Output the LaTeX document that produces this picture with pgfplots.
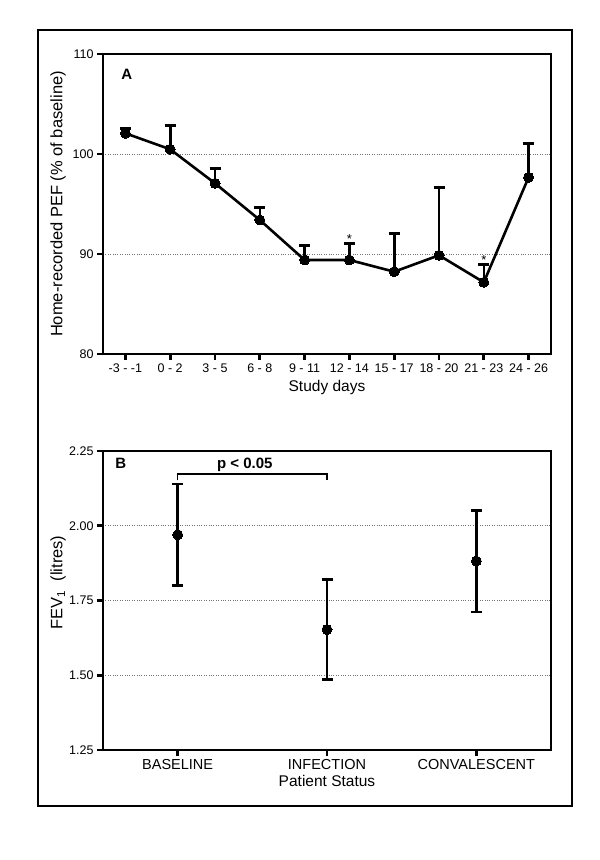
\documentclass[border=0pt]{standalone}
\usepackage{fontspec}
\setmainfont{Liberation Sans}
\usepackage{pgfplots}
\usepackage{pgfplotstable}
\pgfplotsset{compat=1.18}

% panel A: home-recorded PEF, mean + SEM
\pgfplotstableread{
x  y      e
0  102.07 0.50
1  100.47 2.36
2  97.07  1.50
3  93.40  1.23
4  89.40  1.45
5  89.40  1.67
6  88.23  3.84
7  89.87  6.76
8  87.17  1.80
9  97.67  3.40
}\pefdata

% panel B: FEV1, mean +/- SEM
\pgfplotstableread{
x  y     e
0  1.970 0.170
1  1.653 0.167
2  1.882 0.170
}\fevdata

\pgfplotsset{
  panel/.style={
    scale only axis, width=448pt,
    axis line style={line width=2.8pt},
    xtick pos=bottom, ytick pos=left,
    tick align=outside, major tick length=6pt,
    major tick style={black, line width=2.8pt},
    tick label style={font=\fontsize{12.5}{14}\selectfont},
    ymajorgrids, grid style={dotted, black!55, line width=0.5pt},
    label style={font=\fontsize{15.5}{18}\selectfont},
    /pgf/number format/assume math mode=true,
    clip=false,
  },
  meanse/.style={
    black, line width=2.6pt, mark=*, mark size=5pt,
    mark options={solid, fill=black, line width=0pt},
    error bars/y explicit,
    error bars/error bar style={line width=2.6pt},
    error bars/error mark options={rotate=90, mark size=5.5pt, line width=2.6pt},
  },
}

\begin{document}
\begin{tikzpicture}
\path[use as bounding box] (0,0) rectangle (600pt,860pt);
\draw[line width=2pt] (38pt,54pt) rectangle (572pt,830pt);

\begin{axis}[panel,
  at={(103pt,506pt)}, anchor=south west, height=300pt,
  xmin=-0.5, xmax=9.5, ymin=80, ymax=110,
  xtick=data,
  xticklabels={-3 - -1,0 - 2,3 - 5,6 - 8,9 - 11,12 - 14,15 - 17,18 - 20,21 - 23,24 - 26},
  ytick={80,90,100,110},
  xlabel={Study days},
  ylabel={Home-recorded PEF (\% of baseline)},
  xlabel style={at={(axis description cs:0.5,-0.11)}, anchor=center},
  ylabel style={at={(axis description cs:-0.1,0.5)}, rotate=0, anchor=center,
    font=\fontsize{16.5}{18}\selectfont},
]
\addplot[meanse, error bars/y dir=plus] table[x=x, y=y, y error=e] {\pefdata};
\node[anchor=base, font=\fontsize{13}{14}\selectfont] at (axis cs:5,91.07) {*};
\node[anchor=base, font=\fontsize{13}{14}\selectfont] at (axis cs:8,88.97) {*};
\node[anchor=west, font=\bfseries\fontsize{15}{18}\selectfont] at (rel axis cs:0.033,0.931) {A};
\end{axis}

\begin{axis}[panel,
  at={(103pt,110pt)}, anchor=south west, height=299pt,
  xmin=-0.5, xmax=2.5, ymin=1.25, ymax=2.25,
  xtick={0,1,2},
  xticklabels={BASELINE,INFECTION,CONVALESCENT},
  xticklabel style={font=\fontsize{14.5}{17}\selectfont},
  ytick={1.25,1.5,1.75,2,2.25},
  yticklabels={1.25,1.50,1.75,2.00,2.25},
  xlabel={Patient Status},
  ylabel={FEV\textsubscript{1}\ \ (litres)},
  xlabel style={at={(axis description cs:0.5,-0.104)}, anchor=center},
  ylabel style={at={(axis description cs:-0.1,0.56)}, rotate=0, anchor=center,
    font=\fontsize{16.5}{18}\selectfont},
]
\addplot[meanse, only marks, error bars/y dir=both] table[x=x, y=y, y error=e] {\fevdata};
\draw[line width=1.6pt] (axis cs:0,2.152) -- (axis cs:0,2.174) -- (axis cs:1,2.174) -- (axis cs:1,2.152);
\node[anchor=base, font=\bfseries\fontsize{15}{18}\selectfont] at (axis cs:0.45,2.191) {p < 0.05};
\node[anchor=west, font=\bfseries\fontsize{15}{18}\selectfont] at (rel axis cs:0.02,0.96) {B};
\end{axis}
\end{tikzpicture}
\end{document}
